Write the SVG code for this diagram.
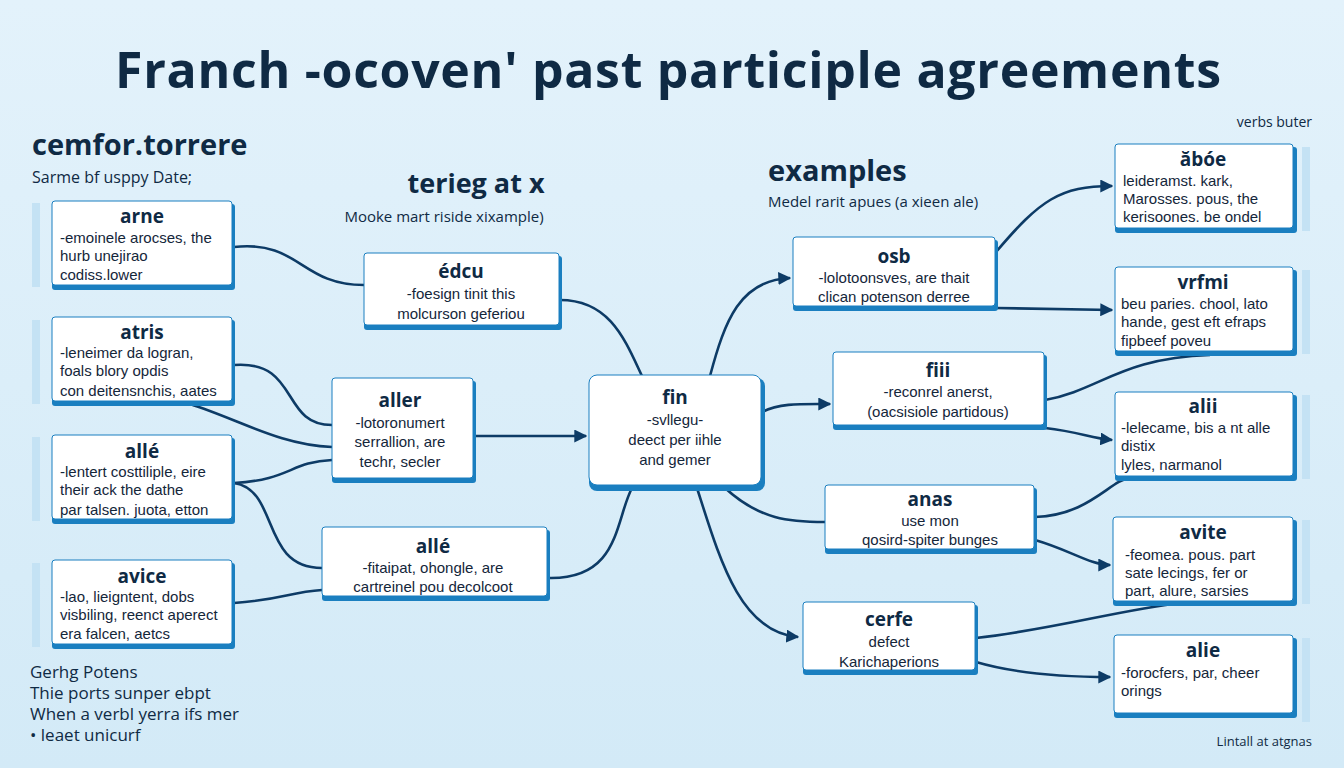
<svg xmlns="http://www.w3.org/2000/svg" width="1344" height="768" viewBox="0 0 1344 768">
<style>
text{font-family:"Open Sans","Liberation Sans",sans-serif;fill:#0f2a44}
.t{font-size:19px;font-weight:700;text-anchor:middle;fill:#0f2a44}
.b{font-family:"Liberation Sans",Arial,sans-serif;font-size:15px;fill:#14263a}
.bc{font-family:"Liberation Sans",Arial,sans-serif;font-size:15px;fill:#14263a;text-anchor:middle}
.box{fill:#fff;stroke:#1a7fc0;stroke-width:1}
.sh{fill:#1a7fc0}
.strip{fill:#c4e2f4}
.c{fill:none;stroke:#0d3b66;stroke-width:2.6}
.a{marker-end:url(#ar)}
</style>
<defs>
<marker id="ar" viewBox="0 0 10 10" refX="9" refY="5" markerWidth="5" markerHeight="5" orient="auto"><path d="M0,0L10,5L0,10z" fill="#0d3b66"/></marker>
<linearGradient id="bg" x1="0" y1="0" x2="0" y2="1"><stop offset="0" stop-color="#e3f2fb"/><stop offset="1" stop-color="#d3eaf7"/></linearGradient>
</defs>
<rect width="1344" height="768" fill="url(#bg)"/>
<text x="668" y="88" font-size="50" font-weight="700" text-anchor="middle" textLength="1106" fill="#0e2f50">Franch -ocoven' past participle agreements</text>
<text x="32" y="155" font-size="29" font-weight="700">cemfor.torrere</text>
<text x="32" y="183" font-size="16" font-family="Liberation Sans,sans-serif">Sarme bf usppy Date;</text>
<text x="476" y="193" font-size="27" font-weight="700" text-anchor="middle">terieg at x</text>
<text x="444" y="222" font-size="15" text-anchor="middle" font-family="Liberation Sans,sans-serif">Mooke mart riside xixample)</text>
<text x="768" y="181" font-size="29" font-weight="700">examples</text>
<text x="768" y="207" font-size="15" font-family="Liberation Sans,sans-serif">Medel rarit apues (a xieen ale)</text>
<text x="1312" y="127" font-size="14" text-anchor="end" font-family="Liberation Sans,sans-serif">verbs buter</text>
<g font-family="Liberation Sans,sans-serif" font-size="17">
<text x="30" y="678">Gerhg Potens</text>
<text x="30" y="699">Thie ports sunper ebpt</text>
<text x="30" y="720">When a verbl yerra ifs mer</text>
<text x="30" y="741">• leaet unicurf</text>
</g>
<text x="1312" y="746" font-size="13" text-anchor="end" font-family="Liberation Sans,sans-serif">Lintall at atgnas</text>

<g id="connectors">
<path class="c" d="M234,247 C300,240 300,285 364,285"/>
<path class="c" d="M234,365 C300,360 280,425 332,425"/>
<path class="c" d="M190,404 C240,420 280,445 332,447"/>
<path class="c" d="M234,483 C290,480 290,462 332,460"/>
<path class="c" d="M234,483 C280,490 260,568 322,568"/>
<path class="c" d="M234,603 C280,600 290,592 322,590"/>
<path class="c a" d="M474,436 L586,436"/>
<path class="c" d="M560,300 C610,300 625,340 642,376"/>
<path class="c" d="M548,578 C620,580 615,520 632,488"/>
<path class="c a" d="M710,376 C725,320 740,280 790,278"/>
<path class="c a" d="M762,412 C780,403 800,404 830,404"/>
<path class="c" d="M725,488 C760,520 790,522 825,522"/>
<path class="c a" d="M697,488 C720,560 740,632 798,637"/>
<path class="c a" d="M996,252 C1040,200 1060,186 1112,186"/>
<path class="c a" d="M996,308 L1112,310"/>
<path class="c" d="M1045,400 C1100,390 1120,358 1210,355"/>
<path class="c a" d="M1045,428 C1080,432 1090,438 1112,440"/>
<path class="c" d="M1035,517 C1090,515 1110,480 1130,478"/>
<path class="c a" d="M1035,540 C1070,550 1090,565 1110,565"/>
<path class="c" d="M976,638 C1050,630 1120,610 1180,603"/>
<path class="c a" d="M976,662 C1020,675 1070,677 1110,677"/>
</g>

<g id="n-arne"><rect class="strip" x="32" y="203" width="8" height="84"/><rect class="sh" x="52" y="204" width="183" height="86" rx="3"/><rect class="box" x="52" y="201" width="180" height="84" rx="3"/>
<text class="t" x="142" y="223">arne</text><text class="b" x="60" y="243">-emoinele arocses, the</text><text class="b" x="60" y="261">hurb unejirao</text><text class="b" x="60" y="280">codiss.lower</text></g>
<g id="n-atris"><rect class="strip" x="32" y="320" width="8" height="84"/><rect class="sh" x="52" y="320" width="183" height="86" rx="3"/><rect class="box" x="52" y="317" width="180" height="84" rx="3"/>
<text class="t" x="142" y="339">atris</text><text class="b" x="60" y="358">-leneimer da logran,</text><text class="b" x="60" y="376">foals blory opdis</text><text class="b" x="60" y="396">con deitensnchis, aates</text></g>
<g id="n-alle1"><rect class="strip" x="32" y="437" width="8" height="84"/><rect class="sh" x="52" y="438" width="183" height="86" rx="3"/><rect class="box" x="52" y="435" width="180" height="84" rx="3"/>
<text class="t" x="142" y="458">allé</text><text class="b" x="60" y="477">-lentert costtiliple, eire</text><text class="b" x="60" y="495">their ack the dathe</text><text class="b" x="60" y="515">par talsen. juota, etton</text></g>
<g id="n-avice"><rect class="strip" x="32" y="563" width="8" height="84"/><rect class="sh" x="52" y="563" width="183" height="86" rx="3"/><rect class="box" x="52" y="560" width="180" height="84" rx="3"/>
<text class="t" x="142" y="583">avice</text><text class="b" x="60" y="602">-lao, lieigntent, dobs</text><text class="b" x="60" y="620">visbiling, reenct aperect</text><text class="b" x="60" y="639">era falcen, aetcs</text></g>

<g id="n-edcu"><rect class="sh" x="364" y="256" width="198" height="74" rx="3"/><rect class="box" x="364" y="253" width="195" height="72" rx="3"/>
<text class="t" x="461" y="278">édcu</text><text class="bc" x="461" y="299">-foesign tinit this</text><text class="bc" x="461" y="319">molcurson geferiou</text></g>
<g id="n-aller"><rect class="sh" x="332" y="381" width="144" height="102" rx="3"/><rect class="box" x="332" y="378" width="141" height="100" rx="3"/>
<text class="t" x="400" y="407">aller</text><text class="bc" x="400" y="428">-lotoronumert</text><text class="bc" x="400" y="447">serrallion, are</text><text class="bc" x="400" y="467">techr, secler</text></g>
<g id="n-alle2"><rect class="sh" x="322" y="530" width="228" height="71" rx="3"/><rect class="box" x="322" y="527" width="225" height="69" rx="3"/>
<text class="t" x="433" y="553">allé</text><text class="bc" x="433" y="573">-fitaipat, ohongle, are</text><text class="bc" x="433" y="592">cartreinel pou decolcoot</text></g>

<g id="n-fin"><rect class="sh" x="589" y="378" width="176" height="113" rx="8"/><rect class="box" x="589" y="375" width="172" height="110" rx="8"/>
<text class="t" x="675" y="404">fin</text><text class="bc" x="675" y="425" font-size="16">-svllegu-</text><text class="bc" x="675" y="445" font-size="16">deect per iihle</text><text class="bc" x="675" y="465" font-size="16">and gemer</text></g>

<g id="n-osb"><rect class="sh" x="793" y="240" width="205" height="71" rx="3"/><rect class="box" x="793" y="237" width="202" height="69" rx="3"/>
<text class="t" x="894" y="263">osb</text><text class="bc" x="894" y="283">-lolotoonsves, are thait</text><text class="bc" x="894" y="302">clican potenson derree</text></g>
<g id="n-fiii"><rect class="sh" x="833" y="355" width="214" height="75" rx="3"/><rect class="box" x="833" y="352" width="211" height="73" rx="3"/>
<text class="t" x="938" y="377">fiii</text><text class="bc" x="938" y="397">-reconrel anerst,</text><text class="bc" x="938" y="417">(oacsisiole partidous)</text></g>
<g id="n-anas"><rect class="sh" x="825" y="488" width="212" height="66" rx="3"/><rect class="box" x="825" y="485" width="209" height="64" rx="3"/>
<text class="t" x="930" y="506">anas</text><text class="bc" x="930" y="526">use mon</text><text class="bc" x="930" y="545">qosird-spiter bunges</text></g>
<g id="n-cerfe"><rect class="sh" x="803" y="605" width="175" height="70" rx="3"/><rect class="box" x="803" y="602" width="172" height="68" rx="3"/>
<text class="t" x="889" y="626">cerfe</text><text class="bc" x="889" y="647" font-size="16">defect</text><text class="bc" x="889" y="667" font-size="16">Karichaperions</text></g>

<g id="n-aboe"><rect class="strip" x="1302" y="147" width="8" height="84"/><rect class="sh" x="1115" y="147" width="182" height="86" rx="3"/><rect class="box" x="1115" y="144" width="178" height="84" rx="3"/>
<text class="t" x="1203" y="166">ăbóe</text><text class="b" x="1123" y="186">leideramst. kark,</text><text class="b" x="1123" y="204">Marosses. pous, the</text><text class="b" x="1123" y="222">kerisoones. be ondel</text></g>
<g id="n-vrfmi"><rect class="strip" x="1302" y="270" width="8" height="84"/><rect class="sh" x="1115" y="270" width="182" height="86" rx="3"/><rect class="box" x="1115" y="267" width="178" height="84" rx="3"/>
<text class="t" x="1203" y="289">vrfmi</text><text class="b" x="1121" y="309">beu paries. chool, lato</text><text class="b" x="1121" y="327">hande, gest eft efraps</text><text class="b" x="1121" y="346">fipbeef poveu</text></g>
<g id="n-alii"><rect class="strip" x="1302" y="395" width="8" height="84"/><rect class="sh" x="1115" y="395" width="182" height="86" rx="3"/><rect class="box" x="1115" y="392" width="178" height="84" rx="3"/>
<text class="t" x="1203" y="413">alii</text><text class="b" x="1121" y="433">-lelecame, bis a nt alle</text><text class="b" x="1121" y="451">distix</text><text class="b" x="1121" y="470">lyles, narmanol</text></g>
<g id="n-avite"><rect class="strip" x="1302" y="520" width="8" height="84"/><rect class="sh" x="1113" y="520" width="184" height="86" rx="3"/><rect class="box" x="1113" y="517" width="180" height="84" rx="3"/>
<text class="t" x="1203" y="539">avite</text><text class="b" x="1125" y="560">-feomea. pous. part</text><text class="b" x="1125" y="578">sate lecings, fer or</text><text class="b" x="1125" y="596">part, alure, sarsies</text></g>
<g id="n-alie"><rect class="strip" x="1302" y="638" width="8" height="84"/><rect class="sh" x="1114" y="638" width="183" height="80" rx="3"/><rect class="box" x="1114" y="635" width="179" height="78" rx="3"/>
<text class="t" x="1203" y="657">alie</text><text class="b" x="1121" y="678">-forocfers, par, cheer</text><text class="b" x="1121" y="696">orings</text></g>
</svg>
